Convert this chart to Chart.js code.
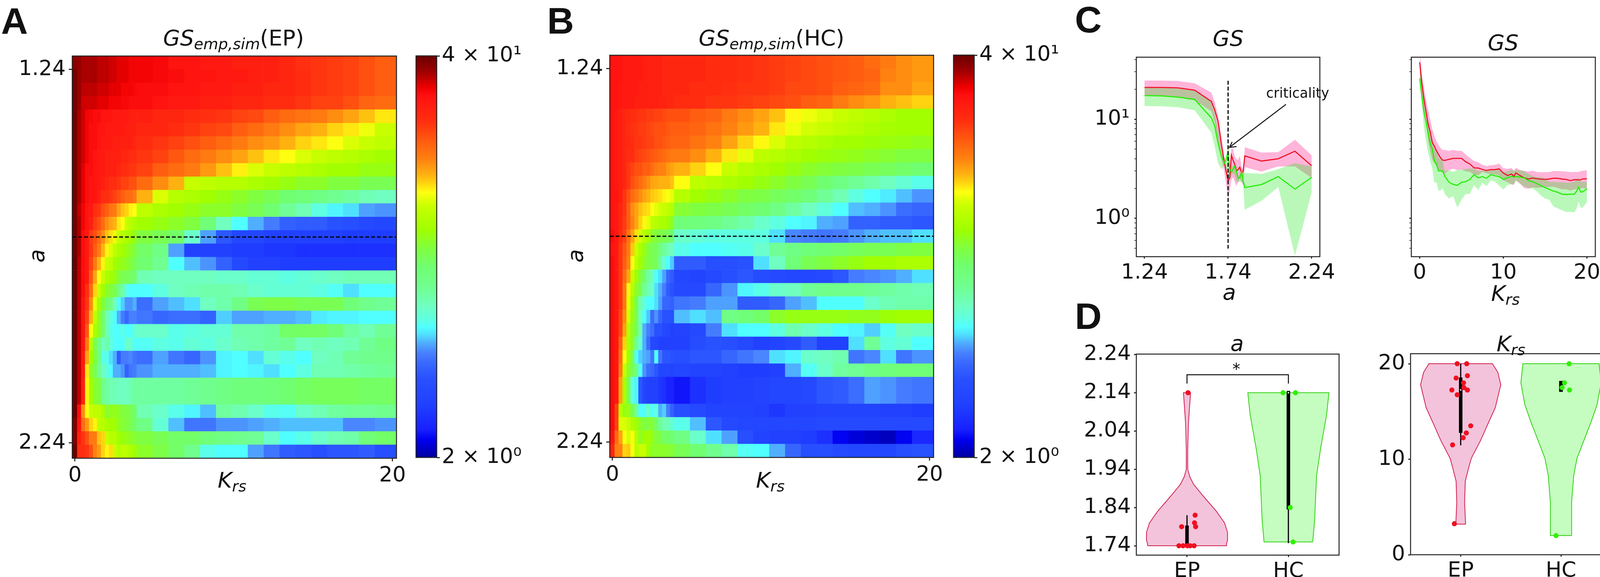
<!DOCTYPE html>
<html>
<head>
<meta charset="utf-8">
<title>GS panels</title>
<script src="https://cdn.jsdelivr.net/npm/chart.js@4/dist/chart.umd.min.js"></script>
<style>
html, body { margin: 0; padding: 0; width: 4131px; height: 1477px; overflow: hidden; background: #fff; }
canvas { position: absolute; }
.t { position: absolute; transform: translate(-50%, -50%); font: 56px "DejaVu Sans"; color: #111; white-space: nowrap; line-height: 1; z-index: 5; }
.t sub { font-size: .7em; vertical-align: -.25em; line-height: 0; }
.p { font: bold 95px "Liberation Sans"; color: #111; }
.rot { transform: translate(-50%, -50%) rotate(-90deg); }
</style>
</head>
<body>
<div class="t p" style="left:37px;top:54px">A</div>
<div class="t p" style="left:1435px;top:53px">B</div>
<div class="t p" style="left:2786px;top:50px">C</div>
<div class="t p" style="left:2786px;top:809px">D</div>
<div class="t" style="left:598px;top:97px"><i>GS</i><sub><i>emp,sim</i></sub>(EP)</div>
<div class="t" style="left:1975px;top:97px"><i>GS</i><sub><i>emp,sim</i></sub>(HC)</div>
<div class="t" style="left:594px;top:1229px"><i>K</i><sub><i>rs</i></sub></div>
<div class="t" style="left:1972px;top:1229px"><i>K</i><sub><i>rs</i></sub></div>
<div class="t rot" style="left:94px;top:655px"><i>a</i></div>
<div class="t rot" style="left:1473px;top:655px"><i>a</i></div>
<div class="t" style="left:3144px;top:98px"><i>GS</i></div>
<div class="t" style="left:3848px;top:109px"><i>GS</i></div>
<div class="t" style="left:3147px;top:748px"><i>a</i></div>
<div class="t" style="left:3854px;top:751px"><i>K</i><sub><i>rs</i></sub></div>
<div class="t" style="left:3167px;top:879px"><i>a</i></div>
<div class="t" style="left:3868px;top:880px"><i>K</i><sub><i>rs</i></sub></div>
<div class="t" style="left:3322px;top:238px;font-size:35px">criticality</div>
<div class="t" style="left:3165px;top:945px;font-size:40px">*</div>

<canvas id="heatA"></canvas>
<canvas id="barA"></canvas>
<canvas id="heatB"></canvas>
<canvas id="barB"></canvas>
<canvas id="curveA"></canvas>
<canvas id="curveK"></canvas>
<canvas id="violinA"></canvas>
<canvas id="violinK"></canvas>

<script>
// heatmap cells: 16 narrow columns on the left, 16 wide ones after that
const krsEdges = [-0.17, 0.125, 0.375, 0.625, 0.875, 1.125, 1.375, 1.625, 1.875, 2.125, 2.375, 2.625, 2.875, 3.125, 3.375, 3.625, 3.875,
    4.875, 5.875, 6.875, 7.875, 8.875, 9.875, 10.875, 11.875, 12.875, 13.875, 14.875, 15.875, 16.875, 17.875, 18.875, 20.25];
const krsHeatTicks = [0, 20];
const aHeatTickPos = [1, 28.85];
const aHeatTickLabels = ['1.24', '2.24'];
const criticalRow = 13.5;
const colorbarTicks = [2, 40];
const colorbarLabels = ['2 × 10⁰', '4 × 10¹'];

const gsEP = [
    [37,36.5,35,35,35,35,34,34,34,33,33,32,32,32,31,31, 31,30.5,29,29,28,28,27,27,27,26,24.5,24,23.5,23,22,21],
    [39,36,35,35,35,35,34,34,34,33,33,32,32,32,31,31, 31,30.5,30,29,29,28,28,27,27,26,25,24,23.5,23,22,21],
    [39,36,34,34,34,34,33,33,33,32,32,32,31,31,31,30.5, 30,30,29,29,28,28,27,27,26,26,25,24,23.5,23,22,21],
    [39,36,33,33,33,33,32,32,32,31,31,31,30.5,30.5,30,30, 30,29,28,28,27,27,26,26,25,25,24,23,23,22,20.5,20],
    [39,35,33,31,30.5,30,30,29,29,29,28,28,28,28,27,27, 27,26,26,25,24.5,24,23,22.5,21,20,19.5,19,18,17,16,15],
    [39,35,33,31,30,30,29,29,28,28,28,28,28,27,27,27, 26,26,25,24,23,22.5,21,20,19,18,17,16.5,15.5,15,14,13],
    [39,35,33,31,30,30,29,28,28,28,27,27,27,27,27,26, 25,24,23,22,21,20,19,18,17.5,16.5,15.5,15,14.4,13.5,13,12.5],
    [39,35,33,31,30,29,28,28,27,27,27,27,26,26,25,25, 24,23,21.5,20,19,18,17,16,15,14.5,13.5,13,12.5,12,11.5,11],
    [39,35,32,30,30,29,28,28,27,27,27,26,25,25,24,24, 23,21,20,19,17.5,16,14.8,13.5,13,12.5,12,11.5,11,11,10.5,10.5],
    [39,35,32,30,29,29,28,27,26,25,25,24,23,23,22,22, 20,18,16.5,13,12.5,12,12,11.5,11,10.5,10,10,9.5,9.5,9,9],
    [39,35,32,30,29,29,27,25,25,24,23,22,21,20,20,19, 16.5,13.5,12,11.5,11,10.5,10,9.5,9,8.3,8,7.5,7.1,6.8,6.4,6.2],
    [39,34,31,29,28,25,24,22,21,19.5,19,17,16,15.5,14.7,14.4, 12.5,11.5,11,10.5,10,10,9.5,9,8.3,7,6.4,5.6,5.2,5,4.6,4.5],
    [39,35,31,29,27,23.5,22,20,18,17,16.5,15,14.4,13,12,11.5, 11,10.5,10,9.5,8,6.2,5.3,4.7,4.3,3.9,3.8,3.8,3.6,3.5,3.3,3.2],
    [39,35,30,28,23.5,22,20,18,16,15.2,13.8,13,12,11.5,11,10.3, 9.5,9,8.5,6,4.6,3.7,3.2,3.2,3,3,3,3,3,2.9,2.9,2.9],
    [39,35,30,28,24,21,19,16.5,14.7,13.5,12.5,11.5,11,10.5,10,9.5, 8.5,7.5,4.6,3,3,3,2.9,2.9,2.8,2.8,2.7,2.7,2.7,2.7,2.7,2.7],
    [40,34,30,28,23,19,16.5,14.7,13,12.5,11,10.5,10.3,10,9.5,9, 8.3,7.1,5.3,4.8,4.5,3.9,3.3,3,3,2.9,2.9,2.9,2.9,2.9,2.9,2.9],
    [40,34,30,28,21.5,17,14.4,13,11.5,11,10.5,9.5,9,9,8.5,8.5, 6.4,6.2,6.2,6.2,6.2,6,6,5.8,5.8,5.6,5.8,6,6.2,6.4,6.4,6.4],
    [40,34,30,24.5,20,15.5,13,11,10,9.5,9,7.5,6.6,5.5,5.3,5.3, 5.3,5.6,6.2,6.4,6.6,6.6,6.4,6,5.8,5.8,5.8,5.6,5.4,5,5.3,5.3],
    [40,34,29,24,18,13.8,11,9.5,8.5,7.5,6.2,5.3,4.9,4.5,4.5,4.7, 4.1,4.6,4.8,5,6.2,6.6,7.5,9,9.3,9.3,9,9,9,8,7.3,7],
    [40,34,29,23,16.5,12.5,10,8.5,6.4,5.6,5.3,4.7,4.3,4,4.35,4.35, 4.2,4,4.1,4.1,3.9,4.9,4.6,4.6,4.7,4.7,4.8,5.1,5.2,5.2,5.3,5.3],
    [40,34,29,21.5,14.4,11.5,10,8.5,6.4,5.5,5.3,5.3,5.6,5.3,5.3,5.8, 6,6,5.5,5.6,5.8,5.8,6.6,6.6,6.8,8.5,8.6,8.6,8,6.8,6.4,7],
    [40,34,29,19,12,9,7.5,6,6.8,5.6,5.3,5.3,5.3,6,6,5.3, 5.4,5.6,5.5,5.8,5.6,6,6.4,6.6,6.8,7,6.2,6.4,6.2,6.4,7,7.5],
    [40,34,28,17,11,9.5,7.5,5.5,5.5,5,4.7,3.8,4.3,4.3,4.4,4.2, 4.1,4.6,4.2,4,4.5,5.2,5.3,5,5.8,5.5,5.3,6.2,6.4,7,7.2,7.3],
    [40,34,28,15,10,9,7,6.2,5.6,5.3,4.7,4.7,4.5,3.9,4.2,4.3, 4.5,4.7,4.7,4.7,4.8,5.2,5.3,5.2,5,5.3,5.6,6.4,6.4,6.6,6.8,7],
    [40,34,27,14.7,11,9.8,9.5,7.3,6.8,6.4,6.4,6.2,6.2,6.2,6.5,6.8, 6.8,6.8,6.8,7,7.2,7.5,7.8,7.8,8,8.3,8.6,8.8,8.8,8.8,8.6,8.6],
    [40,34,27,14.7,11,9.8,9.5,7.3,6.8,6.4,6.4,6.2,6.2,6.2,6.5,6.8, 6.8,6.8,6.8,7,7.2,7.5,7.8,7.8,8,8.3,8.6,8.8,8.8,8.8,8.6,8.6],
    [40,30,18,14.3,13,12.5,12.5,11.5,9.8,10.3,10.3,10,9.5,9.5,9,8.5, 6.4,6,5.5,5.2,4.8,6.8,6.5,6,5.5,5.4,6,6.4,6.8,7,7,7.2],
    [38,29,20,17.5,15.5,14.7,12.5,12,11.5,11,11,10,9.8,9.5,9,8.5, 7.5,5.8,4.8,4.2,4.2,4.5,4.5,4.6,4.7,4.8,4.8,4.8,4.8,4.4,4.4,4.5],
    [38,27,24,22,19,19,16,15.5,13,12,12,11,10.5,10.5,10,9.8, 9.5,9,8.5,8.5,8,7.5,7.2,7,6,5.3,5.5,6,6.4,6.6,8,8.5],
    [40,25,25,24,22,18.5,17.5,15.5,14.7,15.2,13,12,12.3,12.3,11.5,11, 10,9.3,8.5,7.2,5.5,5.3,5.3,4.6,4.2,3.8,3.7,3.5,3.7,3.7,3.8,3.5]
];
const gsHC = [
    [29,29,29,28,28,28,28,28,27,27,27,27,27,26,26,26, 26,26,25,25,24.5,24,23.5,23,22.5,22,21.5,21,20,19,18,17.5],
    [29,29,29,28,28,28,28,28,27,27,27,27,27,26,26,26, 26,26,25,25,24.5,24,23.5,23,22.5,22,21.5,21,20.5,18.5,18,17.5],
    [29,29,28,28,28,28,28,27,27,27,27,27,27,26,26,26, 26,25,25,24.5,24,24,23.5,22.5,22.5,22,21,20.5,20,18,18,17],
    [29,29,28,28,28,28,27,27,27,27,27,27,26.5,26.5,26,26, 25,25,24,24,23.5,23,22.5,22,21,20.5,19,18,17.5,16.5,16,15.5],
    [29,28,27,26,25.5,25,24.5,24,24,23.5,23.5,23,23,22.5,22,22, 22,21,20.5,19,18,17,16,14.6,14,13.5,13,12.5,12,11.5,11,11],
    [29,28,27,26,25,24.5,24,23.5,23.5,23,22.5,22,22,22,21.5,21, 21,20.5,19.5,18.5,17.5,16.5,15,14,13.3,13,12.5,12,11.5,11.2,11,11],
    [29,28,27,26,25.5,25,24,24,23.5,23,23,22,22,21.5,21,20.5, 20.5,19.5,18.5,17,15.5,14.6,13.5,12.5,12,11.5,11,11,10.8,10.6,10.5,10.3],
    [29,28,27,26,25,25,23.5,23,22.5,22,21.5,21,20.5,20,19.5,19, 19,18,16.5,15,13.8,12.5,12,11.5,11,10.7,10.5,10.3,10,9.8,9.5,9.5],
    [29,28,27,26,24,23,22,22,21,21,20,19,18.5,18.5,17.5,17, 16.5,15.5,14.4,13,12,11.5,11,10.5,10,9.7,9.5,9.3,9,8.8,8.5,8.3],
    [29,28,27,26,24,22,21,20,19,18,17,16.8,16.5,16.5,16.5,16, 14.5,12.5,12,11.5,11,10.5,10,9.5,9,8.3,7.5,7,6.6,6.2,5.8,5.5],
    [29,29,27,24,22,20,19,18,17,16.5,15.8,15.5,15.2,14.7,14.4,13.8, 12,11,10.5,10,9.5,9.3,8.8,8.5,8,7,6.4,5.6,5.3,5.1,4.8,4.5],
    [29,28,26,24,21,18,17,16,15.5,15.2,14.4,13.8,13.3,13,12.5,12, 9.8,9.5,9.3,9,8.6,8.3,7.5,6.8,6.2,5.7,5.3,4.8,4.7,4.5,4.1,4],
    [29,28,26,23.5,21,18.5,17,15.5,14.6,13.8,12.5,12,11.5,11.5,11,10, 8,7.8,7.5,7,6.6,6,5.6,5.3,5.2,4.7,4.6,3.9,3.9,3.8,3.8,3.7],
    [30,28,25,23,19.5,17,15.2,13.3,12,11.5,10,9.5,9.5,9,9,8.3, 6,5.8,5.6,5.6,5.6,5.6,5,4.4,4.3,4.2,4.3,4.5,4.7,4.8,4.8,5],
    [29,28,24,21.5,19,15.8,13,11.5,10.5,9.5,9,9,7.5,7,6.4,6.2, 5.5,5.3,5.3,5.4,5.5,6,7,7.5,8,8.3,8.5,8.8,9,9,9.3,9.5],
    [30,28,24,21,18.5,14.4,12.5,11,10,9.5,9,9,6.8,5.8,5.3,4.85, 3.8,3.8,3.5,3.5,3.6,5,6.2,8,9,9.5,10,10.5,11,11,11.5,11.5],
    [30,28,24,20,17,13,11,9.5,8.5,6.8,6.2,5.3,5,4.6,4,3.8, 3.2,3.1,3.3,3.5,3.7,3.4,3.3,3.2,3.2,3.3,3.7,4.3,4.4,4.5,4.7,5],
    [30,28,24,19,14.7,12,10,9,7,6.4,6,5,4.7,4.3,3.8,3.6, 3.3,3.3,4,4.5,5.2,5.5,6,6.2,7,7.3,7.3,7.3,7,6.8,6.6,6.4],
    [30,28,24,19,13.8,11,9,6.5,5.7,5.3,5.3,5,4.6,4,4,3.9, 4.2,4.3,4.6,4.6,3.8,3.8,4,4.6,4.8,5.3,5.3,5.3,6,6.4,6.6,6.6],
    [30,28,23,18,13.3,10.5,9,6.2,5.3,4.85,4.1,4.5,4,3.6,3.6,3.6, 4.8,5,4.8,7.5,8,8.5,10,10.5,10.5,10.5,10.5,10.3,10.3,10.8,11,11],
    [30,28,23,17,12,10,9,6.4,4.7,4.35,4.1,3.6,3.6,3.3,3.2,3, 3.1,3.3,4.3,5,5.3,5.3,5.6,6.5,6,5.6,5.3,5.2,4.9,5.4,6.2,6],
    [30,28,21,15.5,11.5,10,7,5.8,4.7,4.1,3.3,3.2,3,3,3,3, 3,3.4,3.6,3.5,3.3,3,3.1,3.3,3.8,3,3,5,7,5.6,5.8,5.3],
    [30,28,20,14.4,11,9,5.3,4.9,4.7,4.6,4.2,5.3,4.2,3.7,3.7,3.6, 3.5,3.7,3.7,4,4.2,4.4,5,5.2,6,6.2,6.5,4.2,4.4,5,4.2,4.5],
    [30,28,19,13,10,9,7.5,5.3,4.5,4.1,4,3.7,3.2,3.2,3.2,3.1, 3.2,3.1,3.1,3,2.9,2.9,3,4.7,5.4,6,6.8,7,7.5,7.8,8,8],
    [30,28,17,11.5,9,5.6,5.2,3.7,3.2,3,3,3,2.8,2.7,2.5,2.5, 2.4,2.7,2.9,3,3,3.1,3.2,3.2,3.3,3.7,3.8,4.1,4.6,4.5,4.3,4.2],
    [30,28,17,11.5,9,5.6,5.2,3.7,3.2,3,3,3,2.8,2.7,2.5,2.5, 2.4,2.7,2.9,3,3,3.1,3.2,3.2,3.3,3.7,3.8,4.1,4.6,4.5,4.3,4.2],
    [30,23,12,10.5,10.5,9,7,5.3,5.3,6.2,5.3,5.6,4.7,4.9,4.3,3.9, 3.5,3.3,3.1,3.1,3.1,3,2.8,3,3,3.1,3.1,3.1,3.1,3,3,2.9],
    [30,23,13.5,13.5,13,11.5,11,10,9.5,9.5,9.8,8.5,7,6.4,6.4,5.8, 5.5,4.8,3.7,3.3,3.2,3.2,3.2,3.2,3.2,3.3,3.3,3.3,3.3,3.3,3.3,3.3],
    [29,20,17,14.3,13.3,14.3,12,10,11,11,10.5,9.5,9.5,8.5,8.5,8.3, 7.5,6,5,4.6,3.5,3.1,3,3,2.9,2.7,2.3,2.2,2.15,2.1,2.3,2.6],
    [26,18.5,18.5,15.5,15.8,14.3,12,13,13,11,10,10,10,10,9.8,9.8, 9,8.3,7.2,6.6,5.4,5.3,4.7,4,3.5,3.5,3.3,3.2,3.2,3.2,3.5,3.6]
];

// colormap
const cmapPos = [0, .044, .07, .13, .195, .234, .26, .286, .306, .325, .345, .378, .424, .476, .52, .567, .626, .66, .685, .705, .744, .783, .835, .9, .92, .96, 1];
const cmapHex = ['#0000a0', '#0000f0', '#1820ff', '#2040ff', '#2850ff', '#3868ff', '#4880ff', '#50b0ff', '#50e0ff', '#50ffff', '#60ffe0', '#70ffc0', '#70ff90', '#70ff70', '#80ff40', '#a0ff00', '#c8ff00', '#ffff10', '#ffd010', '#ffb010', '#ff8010', '#ff6010', '#ff3010', '#ff1010', '#f00000', '#a00000', '#6a0000'];

// panel C, left
const aGrid = [1.24, 1.34, 1.44, 1.54, 1.64, 1.66, 1.68, 1.70, 1.72, 1.73, 1.74, 1.75, 1.76, 1.77, 1.78, 1.79, 1.80, 1.81, 1.82, 1.83, 1.84, 1.94, 2.04, 2.14, 2.24];
const aRed = [20.9, 20.9, 20.7, 19.6, 15.1, 12.4, 9.5, 5.5, 3.49, 2.88, 2.40, 2.55, 4.32, 3.85, 3.49, 3.03, 3.1, 3.28, 2.88, 2.96, 4.26, 3.78, 3.99, 4.75, 3.39];
const aRedUp = [24.5, 24.5, 24.3, 23, 18.5, 14.8, 10.8, 6.7, 3.9, 3.34, 2.72, 3.55, 5.1, 5, 4.2, 3.95, 3.89, 4.28, 3.34, 3.06, 5.2, 4.6, 4.65, 6.2, 4.32];
const aRedLow = [17.1, 17.1, 16.5, 15.5, 12, 9.2, 6.1, 4, 2.74, 2.09, 1.56, 1.88, 2.47, 2.6, 2.33, 2.11, 2.3, 2.52, 2.33, 2.19, 3.28, 2.96, 3.34, 3.34, 2.55];
const aGreen = [17.3, 17.2, 16.7, 15.8, 10.3, 8.5, 5.75, 4.2, 3.6, 4, 4.6, 3.1, 2.94, 3.13, 3.34, 2.96, 2.55, 2.55, 2.96, 2.4, 2.04, 2.19, 2.63, 1.97, 2.59];
const aGreenUp = [20.7, 20.7, 20.4, 19.3, 15.1, 11.5, 7.8, 4.5, 4, 4.5, 5.7, 3.3, 3.39, 3.39, 3.5, 3.3, 2.7, 2.7, 3.06, 2.8, 2.88, 2.8, 3.13, 3.6, 3.34];
const aGreenLow = [13.6, 13.5, 13.2, 12.3, 7.3, 5.26, 3.6, 3.1, 3.5, 3.06, 2.4, 2.47, 2.7, 2.88, 2.7, 2.33, 2.33, 2.33, 2.33, 2.16, 1.22, 1.5, 2.07, 0.42, 1.82];
const criticalLine = [24.4, 0.495];
const arrowTail = [2.086, 14.1];
const arrowTip = [1.748, 5.19];
const aCurveTicks = [1.24, 1.74, 2.24];
const gsLogTicks = [0.5, 0.6, 0.7, 0.8, 0.9, 1, 2, 3, 4, 5, 6, 7, 8, 9, 10, 20, 30, 40];

// panel C, right
const krsGrid = [0, .25, .5, .75, 1, 1.25, 1.5, 1.75, 2, 2.25, 2.5, 2.75, 3, 3.5, 4, 4.5, 5, 5.5, 6, 6.5, 7, 7.5, 8, 8.5, 9, 9.5, 10, 10.5, 11, 11.25, 11.5, 12, 12.5, 13, 13.5, 14, 14.5, 15, 15.5, 16, 16.5, 17, 17.5, 18, 18.5, 18.75, 19, 19.25, 19.5, 20];
const kRed = [37.5, 23.2, 16.2, 12, 9, 7.5, 5.85, 5.35, 4.81, 4.4, 4.07, 3.86, 3.84, 3.93, 4.02, 4.02, 4.02, 3.72, 3.53, 3.23, 3.21, 3.11, 3.04, 3.1, 3.1, 3.15, 2.86, 2.7, 2.8, 2.64, 2.87, 2.7, 2.56, 2.49, 2.55, 2.51, 2.48, 2.47, 2.49, 2.54, 2.53, 2.49, 2.47, 2.4, 2.45, 2.45, 2.44, 2.44, 2.5, 2.5];
const kRedUp = [48, 28.6, 21.2, 15.7, 12.4, 10, 7.9, 6.8, 6, 5.5, 5.1, 4.9, 4.9, 4.8, 4.9, 4.8, 4.8, 4.4, 4.07, 3.79, 3.67, 3.46, 3.36, 3.43, 3.46, 3.56, 3.2, 3.16, 3.21, 3.02, 3.24, 3.07, 3.02, 2.96, 3.02, 2.93, 2.91, 2.92, 2.93, 3, 3, 2.98, 2.96, 2.92, 2.93, 2.93, 2.93, 3, 3.02, 3.04];
const kRedLow = [33, 16.7, 11.6, 9, 6.2, 4.73, 3.9, 3.62, 3.36, 3.11, 2.98, 2.89, 2.8, 3.07, 3.16, 3.07, 3.11, 2.98, 2.93, 2.76, 2.72, 2.93, 2.84, 2.8, 2.76, 2.72, 2.41, 2.31, 2.2, 2.17, 2.41, 2.24, 2.02, 1.99, 2.05, 2.03, 2.05, 2.05, 2.07, 2.08, 2.03, 1.96, 1.96, 1.91, 1.96, 1.97, 1.99, 2, 2.02, 1.99];
const kGreen = [25.8, 17.2, 12, 9.45, 7.4, 5.76, 5.03, 3.79, 3.56, 3, 3.02, 2.98, 2.66, 2.31, 2.2, 2.15, 2.31, 2.34, 2.47, 2.76, 2.56, 2.63, 2.53, 2.76, 2.68, 2.64, 2.47, 2.56, 2.66, 2.6, 2.64, 2.6, 2.56, 2.4, 2.34, 2.24, 2.13, 2.04, 1.96, 1.88, 1.83, 1.75, 1.74, 1.75, 1.75, 1.87, 2.05, 1.84, 1.85, 1.99];
const kGreenUp = [34, 22.5, 15.2, 10, 8.9, 6.8, 5.85, 5.03, 4.67, 4.07, 3.95, 3.79, 2.98, 3.07, 2.93, 3.07, 3.1, 3.13, 3.19, 3.16, 3, 3.02, 3.05, 3.11, 3.1, 3.11, 2.93, 2.98, 3.11, 3.02, 3.07, 3.05, 2.98, 2.8, 2.68, 2.6, 2.6, 2.53, 2.33, 2.33, 2.31, 2.31, 2.29, 2.29, 2.34, 2.45, 2.56, 2.34, 2.33, 2.33];
const kGreenLow = [24.7, 14.4, 8.4, 6, 4.6, 3.79, 3.21, 2.28, 2.31, 1.9, 1.9, 2.01, 1.76, 1.58, 1.68, 1.28, 1.54, 1.76, 1.76, 2.17, 1.93, 2.28, 2.11, 2.41, 2.34, 2.14, 1.95, 2.17, 2.2, 2.2, 2.41, 2.24, 2.09, 2.02, 2, 1.87, 1.69, 1.58, 1.54, 1.31, 1.26, 1.21, 1.16, 1.16, 1.15, 1.24, 1.47, 1.28, 1.28, 1.46];
const kCurveTicks = [0, 10, 20];

// panel D
const groupTicks = [0, 1];
const groupLabels = ['EP', 'HC'];
const aViolinTicks = [1.74, 1.84, 1.94, 2.04, 2.14, 2.24];
const kViolinTicks = [0, 10, 20];

const aEpLevels = [1.74, 1.745, 1.755, 1.775, 1.80, 1.83, 1.87, 1.90, 1.92, 1.94, 1.99, 2.06, 2.14];
const aEpHalf = [.387, .39, .40, .40, .37, .29, .16, .067, .028, .007, .007, .014, .035];
const aHcLevels = [1.75, 1.807, 1.923, 1.993, 2.082, 2.14];
const aHcHalf = [.24, .259, .278, .317, .377, .40];
const kEpLevels = [3.2, 5.5, 7.7, 9, 10.1, 12, 13.9, 15.4, 16.5, 17.8, 19.1, 20];
const kEpHalf = [.049, .039, .046, .077, .106, .20, .28, .345, .37, .40, .37, .317];
const kHcLevels = [2, 5.5, 8.3, 10.1, 12, 13.9, 15.7, 18, 20];
const kHcHalf = [.106, .106, .127, .16, .23, .30, .36, .40, .38];

const aEpX = [.01, .08, .074, .085, -.053, -.08, -.039, .004, .03, .07];
const aEpY = [2.14, 1.82, 1.80, 1.79, 1.79, 1.74, 1.74, 1.74, 1.74, 1.74];
const aHcX = [.947, 1.07, 1.018, 1.046];
const aHcY = [2.14, 2.14, 1.84, 1.75];
const kEpX = [-.035, .06, .067, -.046, .028, .032, -.088, .067, -.035, .10, .056, .025, -.081, -.063];
const kEpY = [20, 20, 18.75, 18.5, 18, 17.5, 17.25, 17.25, 16.75, 13.5, 12.75, 12.25, 11.5, 3.25];
const kHcX = [1.081, 1.035, 1.011, 1.085, .951];
const kHcY = [20, 18, 17.5, 17.25, 2];

// box parts: [q1, q3], [low whisker, high whisker], median
const aEpBox = [1.74, 1.793], aEpWhisk = [1.74, 1.82], aEpMed = 1.74;
const aHcBox = [1.835, 2.145], aHcWhisk = [1.747, 2.14], aHcMed = 2.14;
const kEpBox = [12.76, 18.56], kEpWhisk = [11.45, 20], kEpMed = 17.25;
const kHcBox = [17.06, 18.2], kHcWhisk = [17.06, 18.2], kHcMed = 17.5;
const bracketX = [0, 0, 1, 1];
const bracketY = [2.164, 2.187, 2.187, 2.164];

const FONT = { family: 'DejaVu Sans', size: 54 };
const INK = '#111';
const PINK_FILL = 'rgba(255,105,180,.5)';
const GREEN_FILL = 'rgba(0,230,0,.27)';
const RED = '#ee1122';
const GREEN = '#22ee00';

function hexRgb(h) {
    return [parseInt(h.substr(1, 2), 16), parseInt(h.substr(3, 2), 16), parseInt(h.substr(5, 2), 16)];
}

function gsColor(v) {
    var t = Math.log(v / 2) / Math.log(20);
    t = Math.min(1, Math.max(0, t));
    var i = 0;
    while (i < cmapPos.length - 2 && t > cmapPos[i + 1]) i++;
    var f = (t - cmapPos[i]) / (cmapPos[i + 1] - cmapPos[i]);
    var a = hexRgb(cmapHex[i]), b = hexRgb(cmapHex[i + 1]);
    return 'rgb(' + Math.round(a[0] + (b[0] - a[0]) * f) + ',' + Math.round(a[1] + (b[1] - a[1]) * f) + ',' + Math.round(a[2] + (b[2] - a[2]) * f) + ')';
}

function pts(xs, ys) {
    return xs.map(function (x, i) { return { x: x, y: ys[i] }; });
}

function axis(tickLen, padding, ticks, label) {
    return {
        grid: { display: true, offset: false, drawOnChartArea: false, drawTicks: true, tickLength: tickLen, tickColor: INK, tickWidth: 2.5 },
        border: { display: false },
        afterBuildTicks: function (s) { s.ticks = ticks.map(function (v) { return { value: v }; }); },
        ticks: { font: FONT, color: INK, padding: padding, autoSkip: false, maxRotation: 0, callback: label }
    };
}

// draws the frame, polygon fills and the arrow head
const panelBits = {
    id: 'panelBits',
    beforeDatasetDraw: function (chart, args) {
        var ds = chart.data.datasets[args.index];
        if (!ds.polyFill) return;
        var ctx = chart.ctx;
        ctx.save();
        ctx.beginPath();
        args.meta.data.forEach(function (p, i) { if (i === 0) ctx.moveTo(p.x, p.y); else ctx.lineTo(p.x, p.y); });
        ctx.closePath();
        ctx.fillStyle = ds.polyFill;
        ctx.fill();
        ctx.restore();
    },
    afterDraw: function (chart) {
        var a = chart.chartArea, ctx = chart.ctx;
        ctx.save();
        ctx.strokeStyle = '#222';
        ctx.lineWidth = 2.5;
        ctx.strokeRect(a.left, a.top, a.right - a.left, a.bottom - a.top);
        if (chart.canvas.id === 'curveA') {
            var x = chart.scales.x.getPixelForValue(arrowTip[0]);
            var y = chart.scales.y.getPixelForValue(arrowTip[1]);
            ctx.strokeStyle = '#111';
            ctx.beginPath();
            ctx.moveTo(x + 7, y - 14);
            ctx.lineTo(x, y);
            ctx.lineTo(x + 18, y - 2);
            ctx.stroke();
        }
        ctx.restore();
    }
};

function place(id, plot, m, config) {
    var c = document.getElementById(id);
    c.width = plot[2] - plot[0] + m[0] + m[2];
    c.height = plot[3] - plot[1] + m[1] + m[3];
    c.style.left = (plot[0] - m[0]) + 'px';
    c.style.top = (plot[1] - m[1]) + 'px';
    config.options.responsive = false;
    config.options.animation = false;
    config.options.devicePixelRatio = 1;
    config.options.plugins = { legend: { display: false }, tooltip: { enabled: false } };
    config.plugins = [panelBits];
    return new Chart(c, config);
}

function fixed(scale, size) {
    scale.afterFit = function (s) {
        if (s.isHorizontal()) s.height = size; else s.width = size;
    };
    return scale;
}

function heatmap(id, rows, plot) {
    var m = [170, 40, 40, 80];
    var sets = [];
    for (let c = 0; c < krsEdges.length - 1; c++) {
        sets.push({
            data: rows.map(function (r, i) { return { y: i + 0.5, x: [krsEdges[c], krsEdges[c + 1]] }; }),
            backgroundColor: rows.map(function (r) { return gsColor(r[c]); }),
            grouped: false, barPercentage: 1, categoryPercentage: 1, borderWidth: 0, order: 1
        });
    }
    sets.push({
        type: 'line', indexAxis: 'x', order: 0,
        data: pts([krsEdges[0], krsEdges[krsEdges.length - 1]], [criticalRow, criticalRow]),
        borderColor: '#000', borderWidth: 3, borderDash: [10, 5], pointRadius: 0, fill: false
    });
    var xs = axis(8, 5, krsHeatTicks, function (v) { return String(v); });
    xs.type = 'linear'; xs.offset = false; xs.min = krsEdges[0]; xs.max = krsEdges[krsEdges.length - 1];
    var ys = axis(9, 8, aHeatTickPos, function (v) { return aHeatTickLabels[aHeatTickPos.indexOf(v)]; });
    ys.type = 'linear'; ys.offset = false; ys.reverse = true; ys.min = 0; ys.max = rows.length;
    place(id, plot, m, {
        type: 'bar',
        data: { datasets: sets },
        options: {
            indexAxis: 'y',
            layout: { padding: { top: m[1], right: m[2] } },
            scales: { x: fixed(xs, m[3]), y: fixed(ys, m[0]) }
        }
    });
}

function colorbar(id, plot) {
    var m = [10, 40, 240, 40];
    var ys = axis(8, 5, colorbarTicks, function (v) { return colorbarLabels[colorbarTicks.indexOf(v)]; });
    ys.type = 'logarithmic'; ys.position = 'right'; ys.min = colorbarTicks[0]; ys.max = colorbarTicks[1];
    place(id, plot, m, {
        type: 'bar',
        data: {
            labels: [''],
            datasets: [{
                data: [colorbarTicks],
                barPercentage: 1, categoryPercentage: 1, borderWidth: 0,
                backgroundColor: function (ctx) {
                    var a = ctx.chart.chartArea;
                    if (!a) return '#000';
                    var g = ctx.chart.ctx.createLinearGradient(0, a.bottom, 0, a.top);
                    cmapPos.forEach(function (p, i) { g.addColorStop(p, cmapHex[i]); });
                    return g;
                }
            }]
        },
        options: {
            layout: { padding: { top: m[1], left: m[0], bottom: m[3] } },
            scales: { x: { display: false }, y: fixed(ys, m[2]) }
        }
    });
}

function curves(id, plot, m, grid, s, xTicks, xRange, yLabels, extra) {
    var band = { pointRadius: 0, borderWidth: 0, tension: 0 };
    var sets = extra.concat([
        { data: pts(grid, s[3]), borderColor: GREEN, borderWidth: 2.8, pointRadius: 0 },
        { data: pts(grid, s[0]), borderColor: RED, borderWidth: 2.8, pointRadius: 0 },
        Object.assign({ data: pts(grid, s[4]), fill: '+1', backgroundColor: GREEN_FILL }, band),
        Object.assign({ data: pts(grid, s[5]) }, band),
        Object.assign({ data: pts(grid, s[1]), fill: '+1', backgroundColor: PINK_FILL }, band),
        Object.assign({ data: pts(grid, s[2]) }, band)
    ]);
    var xs = axis(5, 5, xTicks, function (v) { return id === 'curveA' ? v.toFixed(2) : String(v); });
    xs.type = 'linear'; xs.min = xRange[0]; xs.max = xRange[1];
    var ys = axis(5, 12, gsLogTicks, yLabels);
    ys.type = 'logarithmic'; ys.min = 0.41; ys.max = 42.2;
    ys.grid.tickWidth = function (ctx) { return ctx.tick && (ctx.tick.value === 1 || ctx.tick.value === 10) ? 2.5 : 1.5; };
    place(id, plot, m, {
        type: 'line',
        data: { datasets: sets },
        options: {
            layout: { padding: { top: m[1], right: m[2] } },
            scales: { x: fixed(xs, m[3]), y: fixed(ys, m[0]) }
        }
    });
}

function outline(center, levels, half) {
    var out = [];
    levels.forEach(function (y, i) { out.push({ x: center + half[i], y: y }); });
    for (var i = levels.length - 1; i >= 0; i--) out.push({ x: center - half[i], y: levels[i] });
    out.push(out[0]);
    return out;
}

function violin(center, levels, half, fillCol, lineCol) {
    return { data: outline(center, levels, half), polyFill: fillCol, borderColor: lineCol, borderWidth: 2, pointRadius: 0, fill: false };
}

function stem(x, ys, w) {
    return { data: pts([x, x], ys), borderColor: '#000', borderWidth: w, pointRadius: 0, fill: false };
}

function dots(xs, ys, col) {
    return { type: 'scatter', data: pts(xs, ys), backgroundColor: col, pointRadius: 6.5, pointBorderWidth: 0, borderWidth: 0, showLine: false };
}

function violins(id, plot, m, parts, ticks, yMin, yMax, yLabel) {
    var xs = axis(5, 5, groupTicks, function (v) { return groupLabels[groupTicks.indexOf(v)]; });
    xs.type = 'linear'; xs.min = -0.5; xs.max = 1.5;
    var ys = axis(6, 8, ticks, yLabel);
    ys.type = 'linear'; ys.min = yMin; ys.max = yMax;
    place(id, plot, m, {
        type: 'line',
        data: { datasets: parts },
        options: {
            layout: { padding: { top: m[1], right: m[2] } },
            scales: { x: fixed(xs, m[3]), y: fixed(ys, m[0]) }
        }
    });
}

function medians(xs, ys) {
    return { type: 'scatter', data: pts(xs, ys), backgroundColor: '#fff', pointRadius: 2, borderWidth: 0, showLine: false };
}

heatmap('heatA', gsEP, [185, 143, 1015, 1173]);
colorbar('barA', [1065, 143, 1118, 1171]);
heatmap('heatB', gsHC, [1561, 141, 2390, 1171]);
colorbar('barB', [2441, 141, 2494, 1171]);

curves('curveA', [2909, 142, 3380, 657], [140, 40, 45, 70], aGrid,
    [aRed, aRedUp, aRedLow, aGreen, aGreenUp, aGreenLow], aCurveTicks, [1.191, 2.289],
    function (v) { return v === 10 ? '10¹' : v === 1 ? '10⁰' : ''; },
    [
        { data: pts([arrowTail[0], arrowTip[0]], [arrowTail[1], arrowTip[1]]), borderColor: '#111', borderWidth: 2.5, pointRadius: 0 },
        { data: pts([1.74, 1.74], criticalLine), borderColor: '#000', borderWidth: 3, borderDash: [10, 5], pointRadius: 0 }
    ]);
curves('curveK', [3613, 142, 4084, 657], [30, 40, 40, 70], krsGrid,
    [kRed, kRedUp, kRedLow, kGreen, kGreenUp, kGreenLow], kCurveTicks, [-1, 21],
    function () { return ''; }, []);

violins('violinA', [2909, 906, 3428, 1421], [140, 40, 30, 70], [
    dots(aEpX, aEpY, '#f01020'),
    dots(aHcX, aHcY, '#30f000'),
    medians([0, 1], [aEpMed, aHcMed]),
    stem(0, aEpBox, 9), stem(0, aEpWhisk, 3),
    stem(1, aHcBox, 9), stem(1, aHcWhisk, 3),
    { data: pts(bracketX, bracketY), borderColor: '#111', borderWidth: 2.5, pointRadius: 0 },
    violin(0, aEpLevels, aEpHalf, '#f3c3db', '#d02050'),
    violin(1, aHcLevels, aHcHalf, '#c5fdc0', '#30d010')
], aViolinTicks, 1.7156, 2.241, function (v) { return v.toFixed(2); });

violins('violinK', [3611, 905, 4130, 1420], [100, 40, 1, 70], [
    dots(kEpX, kEpY, '#f01020'),
    dots(kHcX, kHcY, '#30f000'),
    medians([0, 1], [kEpMed, kHcMed]),
    stem(0, kEpBox, 9), stem(0, kEpWhisk, 3),
    stem(1, kHcBox, 9), stem(1, kHcWhisk, 9),
    violin(0, kEpLevels, kEpHalf, '#f3c3db', '#d02050'),
    violin(1, kHcLevels, kHcHalf, '#c5fdc0', '#30d010')
], kViolinTicks, 0, 21.05, function (v) { return String(v); });
</script>
</body>
</html>
